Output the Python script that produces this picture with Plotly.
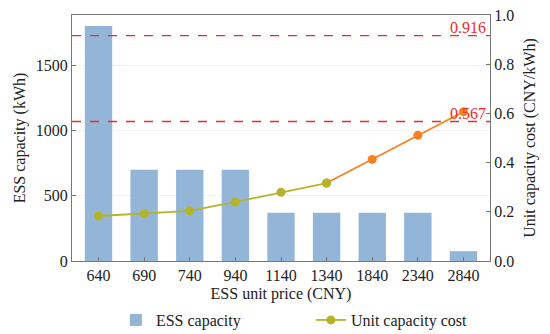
import plotly.graph_objects as go

prices = ["640", "690", "740", "940", "1140", "1340", "1840", "2340", "2840"]
capacity = [1800, 700, 700, 700, 370, 370, 370, 370, 75]
unit_cost = [0.183, 0.192, 0.204, 0.240, 0.279, 0.317, 0.413, 0.511, 0.607]
ref_levels = [0.916, 0.567]
ref_labels = ["0.916", "0.567"]

FONT = "Liberation Serif, Times New Roman, serif"
OLIVE = "#b4b42a"
ORANGE = "#f7821e"
split = 5

fig = go.Figure()
fig.add_trace(go.Bar(x=prices, y=capacity, name="ESS capacity",
                     marker=dict(color="#93b6d8", line=dict(width=0)), width=0.6))
fig.add_trace(go.Scatter(x=prices[:split + 1], y=unit_cost[:split + 1], yaxis="y2",
                         name="Unit capacity cost", mode="lines+markers",
                         line=dict(color=OLIVE, width=1.8),
                         marker=dict(color=OLIVE, size=9)))
fig.add_trace(go.Scatter(x=prices[split:], y=unit_cost[split:], yaxis="y2",
                         showlegend=False, mode="lines+markers",
                         line=dict(color=ORANGE, width=1.8),
                         marker=dict(color=[OLIVE] + [ORANGE] * (len(prices) - split - 1), size=9)))

for lvl, lab in zip(ref_levels, ref_labels):
    fig.add_shape(type="line", xref="paper", x0=0, x1=1, yref="y2", y0=lvl, y1=lvl,
                  line=dict(color="#ee2a2a", width=1.3, dash="dash"))
    fig.add_annotation(xref="paper", x=0.995, yref="y2", y=lvl, text=lab, showarrow=False,
                       xanchor="right", yanchor="bottom", yshift=-2,
                       font=dict(family=FONT, size=16, color="#ee2a2a"))

fig.update_layout(
    width=550, height=334, margin=dict(l=72, r=60, t=15, b=73, autoexpand=False),
    paper_bgcolor="white", plot_bgcolor="white",
    font=dict(family=FONT, size=15, color="#222"),
    xaxis=dict(title=dict(text="ESS unit price (CNY)", standoff=4, font=dict(size=16)),
               automargin=False,
               showline=True, linecolor="#777", linewidth=1.2, mirror=True,
               ticks="inside", ticklen=4, tickcolor="#777", tickfont=dict(size=16)),
    yaxis=dict(title=dict(text="ESS capacity (kWh)", standoff=6, font=dict(size=16)),
               automargin=False,
               range=[0, 1885], tickvals=[0, 500, 1000, 1500],
               showline=True, linecolor="#777", linewidth=1.2,
               ticks="inside", ticklen=4, tickcolor="#777",
               showgrid=True, gridcolor="#f2f2f2", zeroline=False, tickfont=dict(size=16)),
    yaxis2=dict(title=dict(text="Unit capacity cost (CNY/kWh)", standoff=10, font=dict(size=16)),
                automargin=False,
                overlaying="y", side="right", range=[0, 1.0], dtick=0.2, tickformat=".1f",
                showline=True, linecolor="#777", linewidth=1.2,
                ticks="inside", ticklen=4, tickcolor="#777",
                showgrid=False, zeroline=False, tickfont=dict(size=16)),
    legend=dict(orientation="h", x=0.105, xanchor="left", y=-0.24, yanchor="middle",
                font=dict(size=16), entrywidth=150, entrywidthmode="pixels",
                itemwidth=30),
)
fig.write_html("out.html", post_script="document.body.style.margin='0';",
               config={"displayModeBar": False})
